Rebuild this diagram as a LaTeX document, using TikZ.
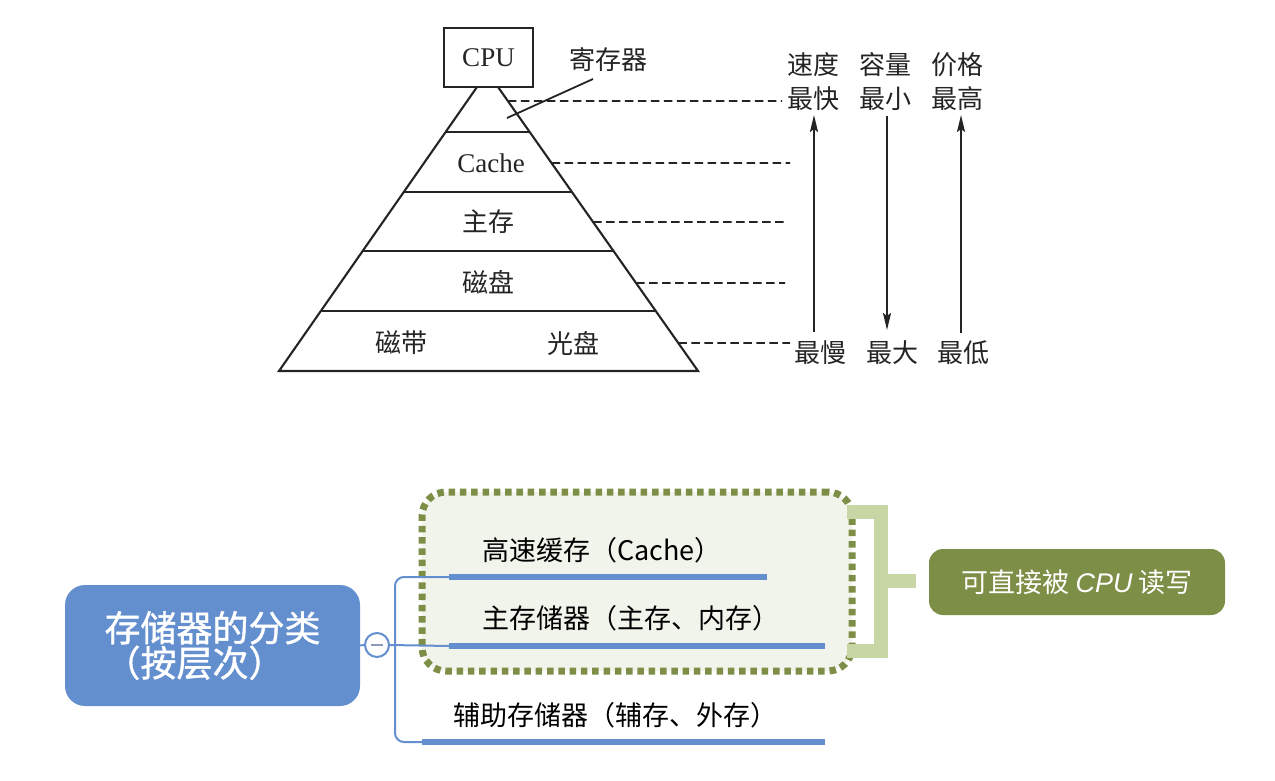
\documentclass[tikz,border=0pt]{standalone}
\usepackage{fontspec}
\setmainfont{Liberation Serif}
\newfontfamily\cjk{Noto Sans CJK SC}
\newfontfamily\cjkheavy[FakeBold=1.2]{Noto Sans CJK SC}
\newfontfamily\latsans{Liberation Sans}
\usetikzlibrary{arrows.meta,calc}

\definecolor{ink}{HTML}{242424}
\definecolor{mapblue}{HTML}{648FCF}
\definecolor{olivedk}{HTML}{7D8E47}
\definecolor{olivelt}{HTML}{C8D6A5}
\definecolor{boxfill}{HTML}{F1F4EB}
\definecolor{minusgray}{HTML}{8E9BBF}

\begin{document}
\begin{tikzpicture}[x=1pt,y=-1pt,
  edge/.style={draw=ink,line width=2.1pt},
  guide/.style={draw=ink,line width=1.8pt,dash pattern=on 8.5pt off 4.5pt},
  trend/.style={draw=ink,line width=2pt,-{Stealth[length=17pt,width=8pt,inset=3pt]}},
  tier/.style={text=ink,font=\cjk\fontsize{26}{26}\selectfont,inner sep=0pt},
  romanlbl/.style={text=ink,font=\fontsize{27}{27}\selectfont,inner sep=0pt},
  rootbox/.style={fill=mapblue,rounded corners=20pt,minimum width=295pt,
    minimum height=121pt,text=white,align=left,inner sep=0pt,
    font=\cjkheavy\fontsize{36}{35}\selectfont},
  item/.style={anchor=west,inner sep=0pt,text=black,
    font=\cjk\fontsize{27}{27}\selectfont},
  branch/.style={draw=mapblue,line width=2pt},
  bar/.style={draw=mapblue,line width=6.5pt},
  groupbox/.style={draw=olivedk,line width=7pt,dash pattern=on 6.5pt off 4.8pt,
    fill=boxfill,rounded corners=24pt,minimum width=430pt,minimum height=179pt},
  bracket/.style={draw=olivelt,line width=14pt,line join=miter},
  notebox/.style={fill=olivedk,rounded corners=14pt,minimum width=296pt,
    minimum height=66pt,text=white,font=\cjk\fontsize{27}{27}\selectfont}
]
\useasboundingbox (0,0) rectangle (1275,781);

% ---------------- memory pyramid ----------------
\node[draw=ink,line width=2.1pt,minimum width=89pt,minimum height=59pt,
  inner sep=0pt,font=\fontsize{27}{27}\selectfont,text=ink] (cpu) at (488.5,57.5) {CPU};

\coordinate (apexL) at (477,87);
\coordinate (apexR) at (498,87);
\coordinate (baseL) at (279,371);
\coordinate (baseR) at (698,371);
\draw[edge,line join=miter] (apexL) -- (baseL) -- (baseR) -- (apexR);

% tier boundaries
\foreach \t in {0.1585,0.3697,0.5775,0.7887}
  \draw[edge] ($(apexL)!\t!(baseL)$) -- ($(apexR)!\t!(baseR)$);

% tier labels
\node[tier] (reg) at (608,60) {寄存器};
\node[romanlbl] (cache) at (491,163) {Cache};
\node[tier] (mainmem) at (488,222) {主存};
\node[tier] (disk) at (488,282) {磁盘};
\node[tier] (tape) at (401,343) {磁带};
\node[tier] (optical) at (573,343) {光盘};

\coordinate (regTail) at (593,79);
\coordinate (regTip) at (507,118);
\draw[edge,line width=1.8pt] (regTail) -- (regTip);

% property columns
\node[tier] (spdH) at (813,65) {速度};
\node[tier] (spdHi) at (813,99) {最快};
\node[tier] (capH) at (885,65) {容量};
\node[tier] (capLo) at (885,99) {最小};
\node[tier] (costH) at (957,65) {价格};
\node[tier] (costHi) at (957,99) {最高};
\node[tier] (spdLo) at (820,353) {最慢};
\node[tier] (capHi) at (892,353) {最大};
\node[tier] (costLo) at (963,353) {最低};

% dashed guides from the pyramid side
\coordinate (g1) at (782,101);
\coordinate (g2) at (790,163);
\coordinate (g3) at (787,222);
\coordinate (g4) at (785,283);
\coordinate (g5) at (790,343);
\draw[guide] ($(apexR)!0.0493!(baseR)$) -- (g1);
\draw[guide] ($(apexR)!0.2676!(baseR)$) -- (g2);
\draw[guide] ($(apexR)!0.4754!(baseR)$) -- (g3);
\draw[guide] ($(apexR)!0.6901!(baseR)$) -- (g4);
\draw[guide] ($(apexR)!0.9014!(baseR)$) -- (g5);

% trend arrows
\coordinate (a1lo) at (814,332);
\coordinate (a1hi) at (814,115);
\coordinate (a2hi) at (887,116);
\coordinate (a2lo) at (887,330);
\coordinate (a3lo) at (961,333);
\coordinate (a3hi) at (961,115);
\draw[trend] (a1lo) -- (a1hi);
\draw[trend] (a2hi) -- (a2lo);
\draw[trend] (a3lo) -- (a3hi);

% ---------------- classification map ----------------
\node[groupbox] (group) at (637,581.5) {};

\node[rootbox] (root) at (212.5,645.5) {存储器的分类\\（按层次）};

\node[circle,draw=mapblue,line width=2pt,fill=white,minimum size=24pt,
  inner sep=0pt] (fold) at (377,645) {};
\draw[minusgray,line width=2.5pt] ($(fold)+(-6,0)$) -- ($(fold)+(6,0)$);

\coordinate (b1s) at (449,577);
\coordinate (b1e) at (767,577);
\coordinate (b2s) at (449,646);
\coordinate (b2e) at (825,646);
\coordinate (b3s) at (422,742);
\coordinate (b3e) at (825,742);

\draw[branch] (root.east) -- (fold.west);
\draw[branch] (fold.east) -- (b2s);
\draw[branch,rounded corners=9pt] (b1s) -- (395,577) -- (395,742) -- (b3s);

\draw[bar] (b1s) -- (b1e);
\draw[bar] (b2s) -- (b2e);
\draw[bar] (b3s) -- (b3e);

\node[item] (cacheItem) at (482,550) {高速缓存（Cache）};
\node[item] (mainItem) at (482,618) {主存储器（主存、内存）};
\node[item] (auxItem) at (453,715) {辅助存储器（辅存、外存）};

% bracket and note
\coordinate (brTop) at (847,512);
\coordinate (brBot) at (847,651);
\coordinate (brMid) at (880.5,581);
\coordinate (brOut) at (916,581);
\draw[bracket] (brTop) -- (880.5,512) -- (880.5,651) -- (brBot);
\draw[bracket] (brMid) -- (brOut);

\node[notebox] (note) at (1077,582) {可直接被 {\latsans\itshape CPU} 读写};

\end{tikzpicture}
\end{document}
